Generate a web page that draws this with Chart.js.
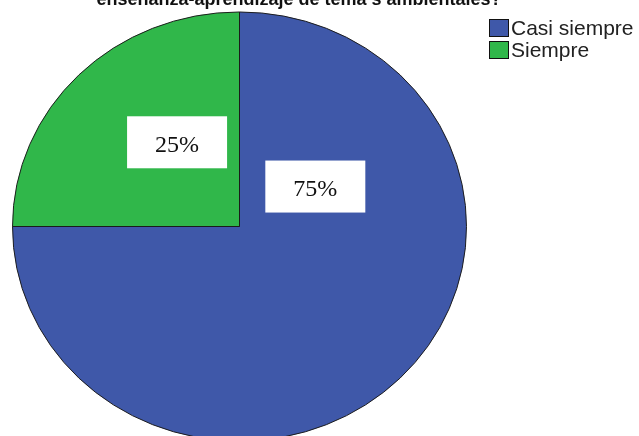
<!DOCTYPE html>
<html>
<head>
<meta charset="utf-8">
<script src="https://cdn.jsdelivr.net/npm/chart.js@4.4.1/dist/chart.umd.min.js"></script>
<style>
  html, body { margin: 0; padding: 0; background: #fff; overflow: hidden; }
  body { width: 639px; height: 436px; position: relative; }
  #wrap { position: absolute; left: 0; top: -1px; width: 639px; height: 458px; }
</style>
</head>
<body>
<div id="wrap"><canvas id="pieChart" width="639" height="458"></canvas></div>
<script>
var categories = ['Casi siempre', 'Siempre'];
var percents = [75, 25];
var sliceColors = ['#3f58a9', '#30b74a'];
var titleLine = 'enseñanza-aprendizaje de tema s ambientales?';

// SPSS squashes the pie a little vertically
var yScale = 215 / 227.5;
// label box centres as fractions of the radius (from the pie centre)
var labelSpots = [[0.334, -0.176], [-0.275, -0.371]];

var squash = {
    id: 'squash',
    beforeDatasetsDraw: function(chart) {
        var arc = chart.getDatasetMeta(0).data[0];
        var ctx = chart.ctx;
        ctx.save();
        ctx.translate(arc.x, arc.y);
        ctx.scale(1, yScale);
        ctx.translate(-arc.x, -arc.y);
    },
    afterDatasetsDraw: function(chart) {
        chart.ctx.restore();
    }
};

var extras = {
    id: 'extras',
    afterDraw: function(chart) {
        var ctx = chart.ctx;
        var meta = chart.getDatasetMeta(0);
        var cx = meta.data[0].x, cy = meta.data[0].y, r = meta.data[0].outerRadius;

        // percentage boxes
        ctx.save();
        ctx.font = '24px "Liberation Serif", "Times New Roman", serif';
        ctx.textAlign = 'center';
        ctx.textBaseline = 'middle';
        percents.forEach(function(v, i) {
            var bx = cx + labelSpots[i][0] * r;
            var by = cy + labelSpots[i][1] * r;
            ctx.fillStyle = '#ffffff';
            ctx.fillRect(bx - 50, by - 26, 100, 52);
            ctx.fillStyle = '#111';
            ctx.fillText(v + '%', bx, by + 3);
        });
        ctx.restore();

        // title (top line is off the picture)
        ctx.save();
        ctx.font = 'bold 18px "Liberation Sans", Arial, sans-serif';
        ctx.fillStyle = '#111';
        ctx.textAlign = 'center';
        ctx.textBaseline = 'alphabetic';
        ctx.fillText(titleLine, 299, 6);
        ctx.restore();

        // legend
        ctx.save();
        ctx.font = '21px "Liberation Sans", Arial, sans-serif';
        ctx.textBaseline = 'alphabetic';
        categories.forEach(function(c, i) {
            var y = 20 + i * 22;
            ctx.fillStyle = sliceColors[i];
            ctx.fillRect(489, y, 20, 18);
            ctx.strokeStyle = '#111';
            ctx.lineWidth = 1;
            ctx.strokeRect(489.5, y + 0.5, 19, 17);
            ctx.fillStyle = '#222';
            ctx.fillText(c, 511, y + 16);
        });
        ctx.restore();
    }
};

new Chart(document.getElementById('pieChart').getContext('2d'), {
    type: 'pie',
    data: {
        labels: categories,
        datasets: [{
            data: percents,
            backgroundColor: sliceColors,
            borderColor: '#1a1a1a',
            borderWidth: 1
        }]
    },
    options: {
        responsive: false,
        animation: false,
        layout: { padding: { left: 12, right: 172, top: 0, bottom: 3 } },
        plugins: {
            legend: { display: false },
            tooltip: { enabled: false }
        }
    },
    plugins: [squash, extras]
});
</script>
</body>
</html>
